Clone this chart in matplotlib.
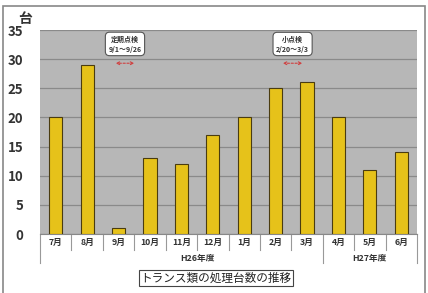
import matplotlib.pyplot as plt
from matplotlib.patches import Rectangle
from matplotlib.lines import Line2D

plt.rcParams['font.family'] = ['Noto Sans CJK JP', 'DejaVu Sans']

months = ["7月", "8月", "9月", "10月", "11月", "12月", "1月", "2月", "3月", "4月", "5月", "6月"]
counts = [20, 29, 1, 13, 12, 17, 20, 25, 26, 20, 11, 14]
yticks = [0, 5, 10, 15, 20, 25, 30, 35]
years = ["H26年度", "H27年度"]
year_ranges = [(0, 9), (9, 12)]
notes = ["定期点検\n9/1～9/26", "小点検\n2/20～3/3"]
note_spans = [(1.82, 2.59), (7.14, 7.94)]

W, H = 428, 293
fig = plt.figure(figsize=(W / 100, H / 100), dpi=100)
ax = fig.add_axes([40 / W, 1 - 234 / H, 377 / W, 204 / H])
ax.set_facecolor("#b7b7b7")

x = list(range(len(months)))
ax.bar(x, counts, width=0.42, color="#e6c21a", edgecolor="#4a3c10", linewidth=0.8, zorder=3)
ax.set_xlim(-0.5, len(months) - 0.5)
ax.set_ylim(0, 35)
ax.set_yticks(yticks)
ax.set_yticklabels([str(v) for v in yticks], fontsize=9.5, fontweight="bold", color="#333333")
ax.yaxis.grid(True, color="#8a8a8a", linewidth=0.9, zorder=1)
ax.tick_params(axis="y", length=0, pad=12)
ax.set_xticks([])
for s in ["top", "right", "left"]:
    ax.spines[s].set_visible(False)
ax.spines["bottom"].set_color("#888888")

# month labels and separators below the axis
for i, m in enumerate(months):
    ax.text(i, -1.5, m, ha="center", va="center", fontsize=6.3, fontweight="bold",
            color="#333333", clip_on=False)
for b in range(len(months) + 1):
    long_line = b in (0, 9, 12)
    y_end = -5.0 if long_line else -2.7
    ax.add_line(Line2D([b - 0.5, b - 0.5], [0, y_end], color="#999999", linewidth=0.8, clip_on=False))
for name, (a, b) in zip(years, year_ranges):
    ax.text((a + b) / 2 - 0.5 + (0.5 if b == 9 else 0), -4.2, name, ha="center", va="center",
            fontsize=6.3, fontweight="bold", color="#333333", clip_on=False)

# annotations
for txt, (a, b) in zip(notes, note_spans):
    ax.text((a + b) / 2, 32.6, txt, ha="center", va="center", fontsize=5, fontweight="bold",
            color="#333333", linespacing=1.5, zorder=5,
            bbox=dict(boxstyle="round,pad=0.45,rounding_size=0.6", fc="white", ec="#555555", lw=0.8))
    ax.annotate("", xy=(a, 29.3), xytext=(b, 29.3),
                arrowprops=dict(arrowstyle="<->", color="#d04040", lw=0.8, linestyle=(0, (2, 1.5)),
                                mutation_scale=5), zorder=5)

fig.text(25 / W, 1 - 19 / H, "台", ha="center", va="center", fontsize=10, fontweight="bold", color="#333333")
fig.text(216 / W, 1 - 278 / H, "トランス類の処理台数の推移", ha="center", va="center", fontsize=8.4,
         color="#222222", bbox=dict(boxstyle="square,pad=0.15", fc="white", ec="#444444", lw=0.8))

# outer frame
fig.add_artist(Rectangle((3 / W, -0.01), 422 / W, 1 - 6 / H + 0.01, transform=fig.transFigure,
                         fill=False, ec="#888888", lw=1.2))

fig.savefig("out.png", dpi=100)
